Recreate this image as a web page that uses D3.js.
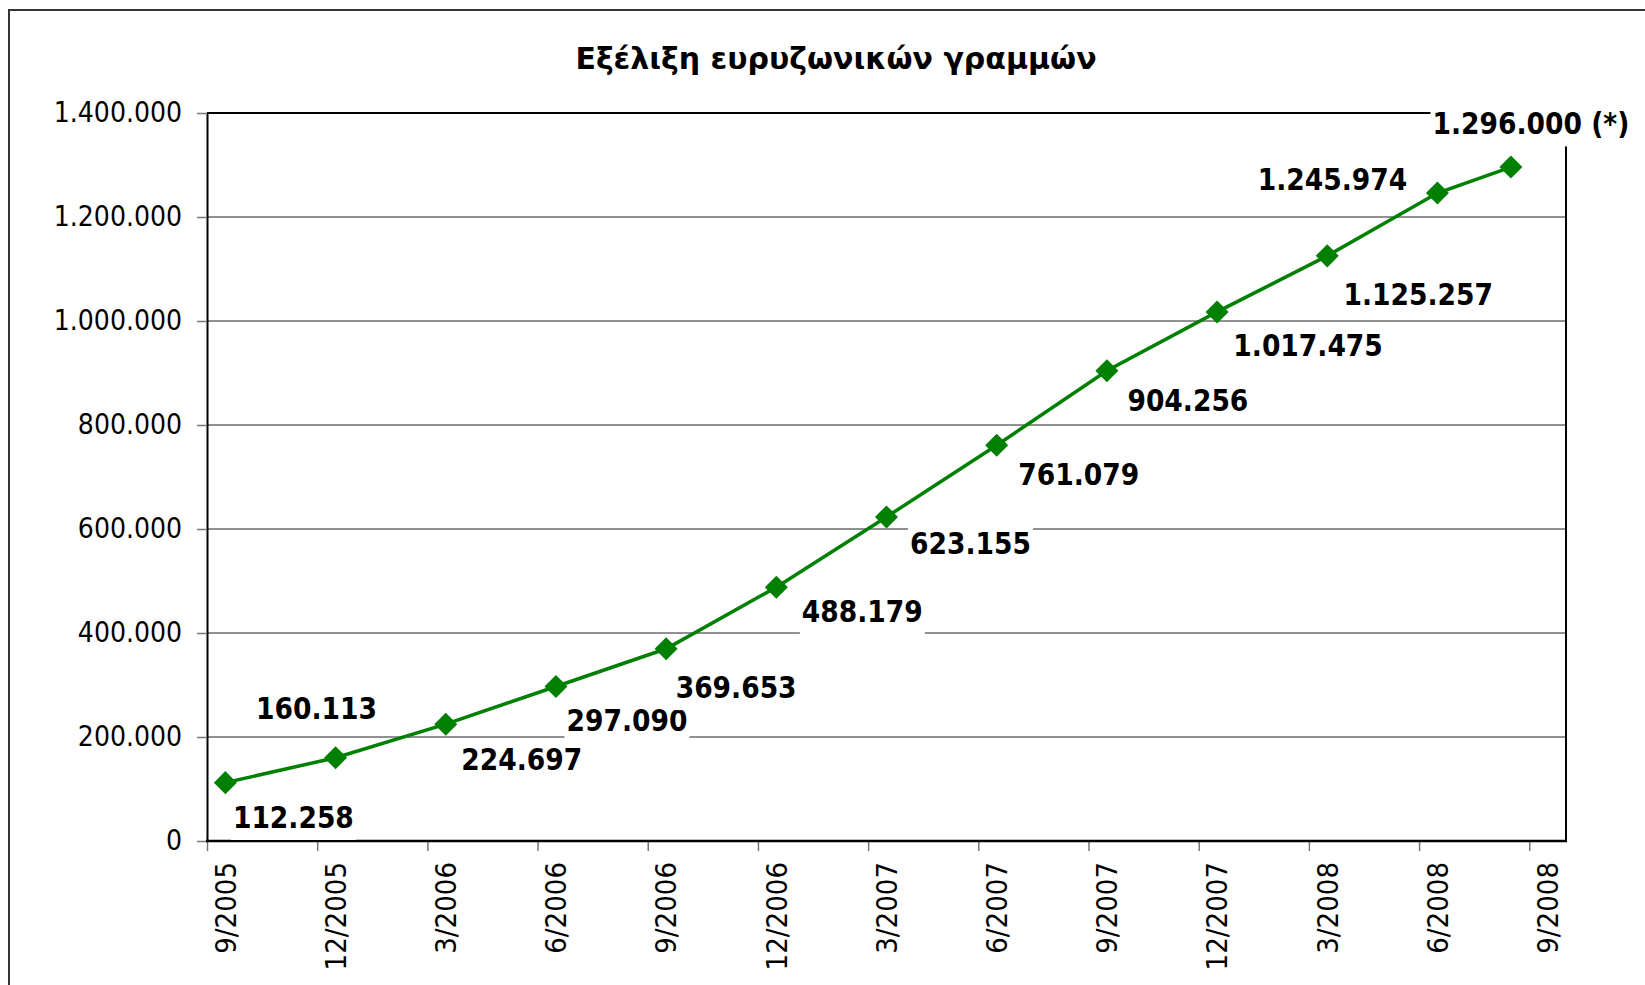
<!DOCTYPE html>
<meta charset="utf-8">
<style>
body { margin: 0; background: #fff; }
text { font-family: "DejaVu Sans Condensed", "DejaVu Sans", sans-serif; }
</style>
<body>
<script src="https://d3js.org/d3.v7.min.js"></script>
<script>

// month of each reading and broadband lines at that month (last one is an estimate)
var months = ["9/2005", "12/2005", "3/2006", "6/2006", "9/2006", "12/2006", "3/2007",
              "6/2007", "9/2007", "12/2007", "3/2008", "6/2008", "8/2008"];
var lines = [112258, 160113, 224697, 297090, 369653, 488179, 623155,
             761079, 904256, 1017475, 1125257, 1245974, 1296000];
var notes = ["", "", "", "", "", "", "", "", "", "", "", "", " (*)"];

// axis ticks
var xTicks = ["9/2005", "12/2005", "3/2006", "6/2006", "9/2006", "12/2006", "3/2007",
              "6/2007", "9/2007", "12/2007", "3/2008", "6/2008", "9/2008"];
var yTicks = [0, 200000, 400000, 600000, 800000, 1000000, 1200000, 1400000];
var title = "Εξέλιξη ευρυζωνικών γραμμών";

// where each data label sits, relative to its marker (hand placed in the original)
var labelOffsets = [[68, 35], [-19, -49], [76, 36], [71, 34], [70, 39], [86, 25], [84, 27],
                    [82, 29], [81, 30], [91, 34], [91, 39], [-105, -13], [20, -43]];

var W = 1645, H = 985;
var plot = {left: 207, right: 1566, top: 113, bottom: 841};

var locale = d3.formatLocale({decimal: ",", thousands: ".", grouping: [3], currency: ["€", ""]});
var fmt = locale.format(",d");

// months counted from 9/2005, the axis runs in whole months like Excel's date axis
function monthIndex(s) {
  var p = s.split("/");
  return (+p[1] - 2005) * 12 + (+p[0] - 9);
}

var svg = d3.select("body").append("svg")
    .attr("width", W)
    .attr("height", H);

// outer chart border
svg.append("rect")
    .attr("x", 9).attr("y", 10)
    .attr("width", 1700).attr("height", 1000)
    .attr("fill", "#fff")
    .attr("stroke", "#333")
    .attr("stroke-width", 2);

var x = d3.scaleLinear()
    .domain([0, 37])
    .range([plot.left, plot.right]);
var y = d3.scaleLinear()
    .domain([0, 1400000])
    .range([plot.bottom, plot.top]);

// gridlines
svg.append("g")
  .selectAll("line")
    .data(yTicks.slice(1))
  .enter().append("line")
    .attr("x1", plot.left).attr("x2", plot.right)
    .attr("y1", function(d) { return y(d); })
    .attr("y2", function(d) { return y(d); })
    .attr("stroke", "#222")
    .attr("stroke-width", 1);

// top and right border of the plot area
svg.append("path")
    .attr("d", "M" + plot.left + "," + plot.top + "H" + plot.right + "V" + plot.bottom)
    .attr("fill", "none")
    .attr("stroke", "#000")
    .attr("stroke-width", 2);

// y axis
var yAxis = svg.append("g")
    .attr("transform", "translate(" + plot.left + ",0)")
    .call(d3.axisLeft(y).tickValues(yTicks).tickFormat(fmt)
            .tickSize(10).tickSizeOuter(0).tickPadding(15));
yAxis.select(".domain").attr("stroke", "#000").attr("stroke-width", 2);
yAxis.selectAll(".tick line").attr("stroke", "#777").attr("stroke-width", 1.5);
yAxis.selectAll("text")
    .attr("fill", "#000")
    .style("font-size", "28px");

// x axis, ticks at the start of each quarter month
var xAxis = svg.append("g")
    .attr("transform", "translate(0," + plot.bottom + ")")
    .call(d3.axisBottom(x)
            .tickValues(xTicks.map(monthIndex))
            .tickFormat(function(d, i) { return xTicks[i]; })
            .tickSize(10).tickSizeOuter(0));
xAxis.select(".domain").remove();
xAxis.selectAll(".tick line").attr("stroke", "#777").attr("stroke-width", 1.5);
xAxis.selectAll("text")
    .attr("x", 0).attr("y", 0)
    .attr("dy", "0.35em")
    .attr("transform", "translate(18,21) rotate(-90)")
    .attr("fill", "#000")
    .style("text-anchor", "end")
    .style("font-size", "29px");

svg.append("line")
    .attr("x1", plot.left - 1).attr("x2", plot.right + 1)
    .attr("y1", plot.bottom).attr("y2", plot.bottom)
    .attr("stroke", "#000")
    .attr("stroke-width", 2.5);

// the series, each reading in the middle of its month
function px(i) { return x(monthIndex(months[i]) + 0.5); }

var line = d3.line()
    .x(function(d, i) { return px(i); })
    .y(function(d) { return y(d); });

svg.append("path")
    .datum(lines)
    .attr("d", line)
    .attr("fill", "none")
    .attr("stroke", "#008000")
    .attr("stroke-width", 3.5);

svg.append("g")
  .selectAll("path")
    .data(lines)
  .enter().append("path")
    .attr("d", d3.symbol().type(d3.symbolSquare).size(265))
    .attr("transform", function(d, i) {
        return "translate(" + px(i) + "," + y(d) + ") rotate(45)"; })
    .attr("fill", "#008000");

// data labels with white boxes
var labels = svg.append("g")
  .selectAll("g")
    .data(lines)
  .enter().append("g")
    .attr("transform", function(d, i) {
        return "translate(" + (px(i) + labelOffsets[i][0]) + "," +
               (y(d) + labelOffsets[i][1]) + ")"; });

labels.append("text")
    .attr("text-anchor", "middle")
    .attr("dy", "0.35em")
    .style("font-size", "29.5px")
    .style("font-weight", "bold")
    .text(function(d, i) { return fmt(d) + notes[i]; });

labels.each(function() {
    var g = d3.select(this);
    var b = g.select("text").node().getBBox();
    g.insert("rect", "text")
        .attr("x", b.x - 2).attr("y", b.y - 5)
        .attr("width", b.width + 4).attr("height", b.height + 10)
        .attr("fill", "#fff");
});

// title
svg.append("text")
    .attr("x", 836).attr("y", 69)
    .attr("text-anchor", "middle")
    .style("font-family", "'DejaVu Sans', sans-serif")
    .style("font-size", "30px")
    .style("font-weight", "bold")
    .text(title);

</script>
</body>
